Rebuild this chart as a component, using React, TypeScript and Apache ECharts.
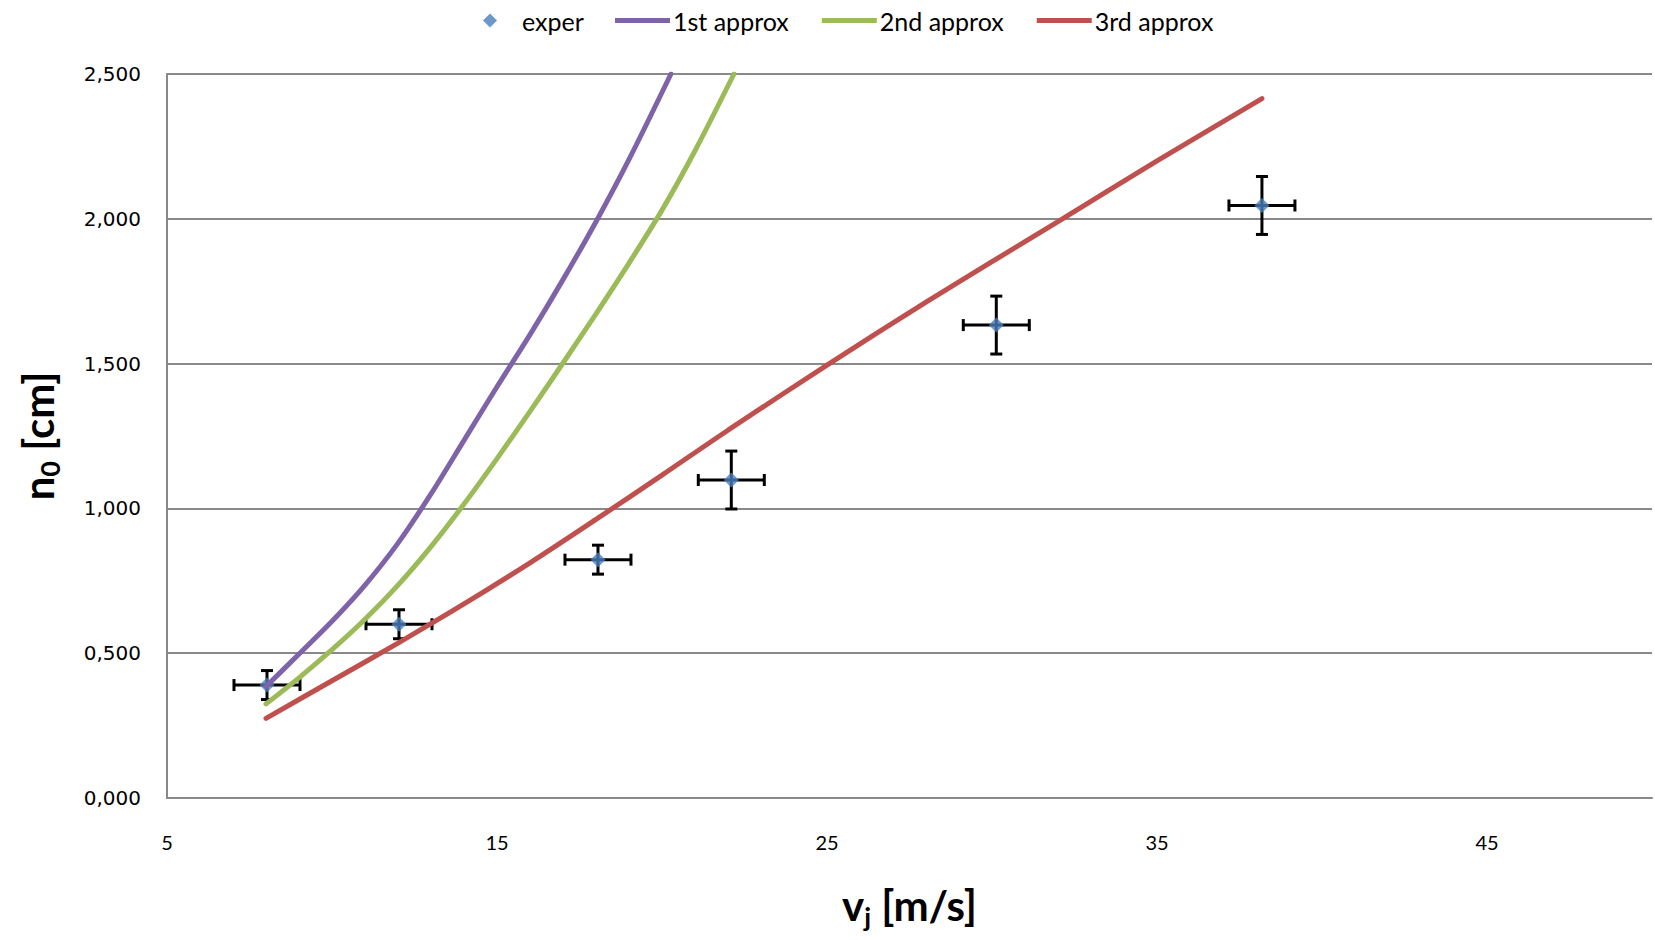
import { useEffect, useRef } from 'react';
import * as echarts from 'echarts';

// experimental points
const experX = [8.03, 12.03, 18.06, 22.1, 30.13, 38.18];
const experY = [0.39, 0.6, 0.823, 1.098, 1.633, 2.046];
const experXErr = [1, 1, 1, 1, 1, 1];
const experYErr = [0.05, 0.05, 0.05, 0.1, 0.1, 0.1];

// 1st approx
const approx1X = [8, 9, 10, 11, 12, 13, 14, 15, 16, 17, 18, 19, 20.27];
const approx1Y = [0.385, 0.497, 0.61, 0.735, 0.88, 1.05, 1.235, 1.42, 1.6, 1.79, 1.99, 2.205, 2.5];

// 2nd approx
const approx2X = [8, 9, 10, 11, 12, 13, 14, 15, 16, 17, 18, 19, 20, 21, 22.18];
const approx2Y = [0.325, 0.415, 0.512, 0.617, 0.735, 0.868, 1.015, 1.172, 1.335, 1.502, 1.672, 1.847, 2.03, 2.235, 2.5];

// 3rd approx
const approx3X = [8, 10, 12, 14, 16, 18, 20, 22, 25, 28, 30, 32, 35, 38.18];
const approx3Y = [0.275, 0.405, 0.535, 0.67, 0.812, 0.962, 1.115, 1.27, 1.495, 1.712, 1.852, 1.99, 2.2, 2.415];

const xTickLabels = [5, 15, 25, 35, 45];

const pairs = (xs: number[], ys: number[]) => xs.map((x, i) => [x, ys[i]]);

export default function App() {
  const ref = useRef<HTMLDivElement>(null);

  useEffect(() => {
    const chart = echarts.init(ref.current!, null, { renderer: 'svg' });
    const gray = '#898989';
    const legendText = { fontFamily: 'Lato', fontSize: 25, color: '#000' };
    const titleRich = {
      a: { fontFamily: 'Lato', fontWeight: 'bold', fontSize: 42, lineHeight: 50, color: '#000' },
      b: { fontFamily: 'Lato', fontWeight: 'bold', fontSize: 27, lineHeight: 20, verticalAlign: 'bottom', color: '#000' },
    };
    const option: any = {
      animation: false,
      backgroundColor: '#ffffff',
      grid: { left: 167, right: 0, top: 74, bottom: 142, containLabel: false },
      legend: [
        {
          left: 478,
          top: 3,
          icon: 'diamond',
          itemWidth: 14,
          itemHeight: 14,
          textStyle: { ...legendText, padding: [0, 0, 0, 20] },
          data: ['exper'],
        },
        {
          left: 610,
          top: 3,
          icon: 'rect',
          itemWidth: 55,
          itemHeight: 5,
          itemGap: 33,
          textStyle: { ...legendText, padding: [0, 0, 0, -2] },
          data: ['1st approx', '2nd approx', '3rd approx'],
        },
      ],
      xAxis: {
        type: 'value',
        min: 5,
        max: 50,
        interval: 5,
        axisLine: { show: true, lineStyle: { color: gray, width: 2 } },
        axisTick: { show: false },
        splitLine: { show: false },
        axisLabel: {
          margin: 34,
          fontFamily: 'Lato',
          fontSize: 20,
          color: '#000',
          formatter: (v: number) => (xTickLabels.indexOf(v) >= 0 ? String(v) : ''),
        },
        name: '{a|v}{b|j}{a| [m/s]}',
        nameLocation: 'middle',
        nameGap: 82,
        nameTextStyle: { rich: titleRich },
      },
      yAxis: {
        type: 'value',
        min: 0,
        max: 2.5,
        interval: 0.5,
        axisLine: { show: true, lineStyle: { color: gray, width: 2 } },
        axisTick: { show: false },
        splitLine: { show: true, lineStyle: { color: gray, width: 2 } },
        axisLabel: {
          margin: 26,
          fontFamily: 'DejaVu Sans',
          fontSize: 20,
          color: '#000',
          formatter: (v: number) => v.toFixed(3).replace('.', ','),
        },
        name: '{a|n}{b|0}{a| [cm]}',
        nameLocation: 'middle',
        nameRotate: 90,
        nameGap: 104,
        nameTextStyle: { rich: titleRich },
      },
      series: [
        {
          type: 'custom',
          name: 'errors',
          z: 2,
          silent: true,
          encode: { x: 0, y: 1 },
          data: experX.map((x, i) => [x, experY[i], experXErr[i], experYErr[i]]),
          renderItem: (_params: any, api: any) => {
            const x = api.value(0);
            const y = api.value(1);
            const ex = api.value(2);
            const ey = api.value(3);
            const l = api.coord([x - ex, y]);
            const r = api.coord([x + ex, y]);
            const t = api.coord([x, y + ey]);
            const b = api.coord([x, y - ey]);
            const cap = 6;
            const style = { stroke: '#000', lineWidth: 3 };
            return {
              type: 'group',
              children: [
                { type: 'line', shape: { x1: l[0], y1: l[1], x2: r[0], y2: r[1] }, style },
                { type: 'line', shape: { x1: l[0], y1: l[1] - cap, x2: l[0], y2: l[1] + cap }, style },
                { type: 'line', shape: { x1: r[0], y1: r[1] - cap, x2: r[0], y2: r[1] + cap }, style },
                { type: 'line', shape: { x1: t[0], y1: t[1], x2: b[0], y2: b[1] }, style },
                { type: 'line', shape: { x1: t[0] - cap, y1: t[1], x2: t[0] + cap, y2: t[1] }, style },
                { type: 'line', shape: { x1: b[0] - cap, y1: b[1], x2: b[0] + cap, y2: b[1] }, style },
              ],
            };
          },
        },
        {
          type: 'scatter',
          name: 'exper',
          z: 3,
          symbol: 'diamond',
          symbolSize: 15,
          itemStyle: { color: '#4A7EBB' },
          data: pairs(experX, experY),
        },
        {
          type: 'line',
          name: '1st approx',
          z: 4,
          smooth: 0.3,
          symbol: 'none',
          lineStyle: { color: '#7F63A8', width: 5, cap: 'round' },
          itemStyle: { color: '#7F63A8' },
          data: pairs(approx1X, approx1Y),
        },
        {
          type: 'line',
          name: '2nd approx',
          z: 4,
          smooth: 0.3,
          symbol: 'none',
          lineStyle: { color: '#9BBB59', width: 5, cap: 'round' },
          itemStyle: { color: '#9BBB59' },
          data: pairs(approx2X, approx2Y),
        },
        {
          type: 'line',
          name: '3rd approx',
          z: 4,
          smooth: 0.3,
          symbol: 'none',
          lineStyle: { color: '#C0504D', width: 5, cap: 'round' },
          itemStyle: { color: '#C0504D' },
          data: pairs(approx3X, approx3Y),
        },
      ],
    };
    chart.setOption(option);
    return () => chart.dispose();
  }, []);

  return (
    <div
      ref={ref}
      style={{ position: 'absolute', left: 0, top: 0, width: 1655, height: 940, background: '#fff' }}
    />
  );
}
